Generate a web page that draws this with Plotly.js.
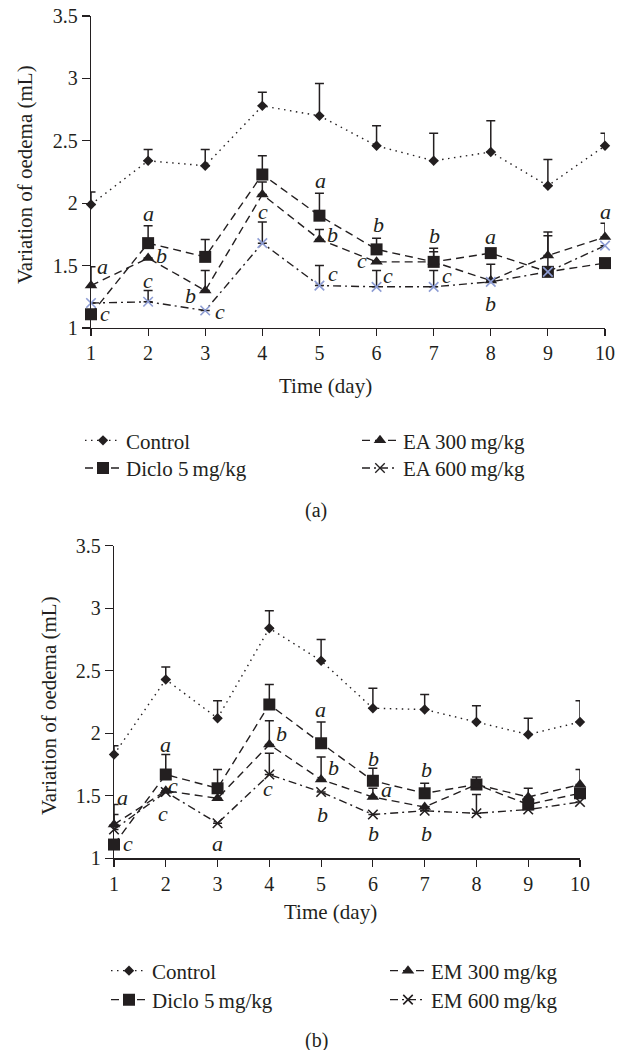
<!DOCTYPE html>
<html>
<head>
<meta charset="utf-8">
<script src="https://cdn.plot.ly/plotly-3.0.1.min.js"></script>
<style>
html,body{margin:0;padding:0;background:#fff;}
#chart{width:632px;height:1050px;}
</style>
</head>
<body>
<div id="chart"></div>
<script>
// ---------- data ----------
var days = [1, 2, 3, 4, 5, 6, 7, 8, 9, 10];

// Panel (a)
var aNames = ["Control", "Diclo 5\u2009mg/kg", "EA 300\u2009mg/kg", "EA 600\u2009mg/kg"];
var aControl = [1.99, 2.34, 2.30, 2.78, 2.70, 2.46, 2.34, 2.41, 2.14, 2.46];
var aControlErr = [0.10, 0.09, 0.13, 0.11, 0.26, 0.16, 0.22, 0.25, 0.21, 0.10];
var aDiclo = [1.11, 1.68, 1.57, 2.23, 1.90, 1.63, 1.53, 1.60, 1.45, 1.52];
var aDicloErr = [0, 0.14, 0.14, 0.15, 0.18, 0.09, 0.11, 0, 0.29, 0];
var aEA300 = [1.34, 1.56, 1.30, 2.07, 1.71, 1.53, 1.53, 1.38, 1.58, 1.73];
var aEA300Err = [0.15, 0, 0.16, 0.10, 0.08, 0, 0.08, 0.13, 0.19, 0.11];
var aEA600 = [1.20, 1.21, 1.14, 1.68, 1.34, 1.33, 1.33, 1.37, 1.45, 1.66];
var aEA600Err = [0, 0.09, 0, 0.17, 0.16, 0.13, 0.13, 0, 0, 0];

// Panel (b)
var bNames = ["Control", "Diclo 5\u2009mg/kg", "EM 300\u2009mg/kg", "EM 600\u2009mg/kg"];
var bControl = [1.83, 2.43, 2.12, 2.84, 2.58, 2.20, 2.19, 2.09, 1.99, 2.09];
var bControlErr = [0.07, 0.10, 0.14, 0.14, 0.17, 0.16, 0.12, 0.13, 0.13, 0.17];
var bDiclo = [1.11, 1.67, 1.56, 2.23, 1.92, 1.62, 1.52, 1.59, 1.43, 1.52];
var bDicloErr = [0, 0.16, 0.15, 0.16, 0.17, 0.10, 0.08, 0.06, 0, 0];
var bEM300 = [1.27, 1.54, 1.48, 1.91, 1.63, 1.49, 1.41, 1.59, 1.49, 1.59];
var bEM300Err = [0.08, 0, 0, 0.19, 0.18, 0.07, 0, 0, 0.07, 0.12];
var bEM600 = [1.23, 1.53, 1.28, 1.67, 1.53, 1.35, 1.38, 1.36, 1.39, 1.45];
var bEM600Err = [0.20, 0, 0, 0.17, 0, 0, 0, 0.15, 0, 0];

// significance letters: [day position, value position, letter]
var aLetterX = [1.21, 1.245, 2.0, 2.24, 2.0, 2.75, 3.26, 4.01, 5.01, 5.22, 5.24, 6.04, 5.75, 6.2, 7.02, 7.23, 8.0, 8.0, 10.0, 10.25];
var aLetterY = [1.49, 1.12, 1.92, 1.58, 1.38, 1.26, 1.13, 1.93, 2.18, 1.75, 1.44, 1.83, 1.54, 1.42, 1.74, 1.42, 1.73, 1.20, 1.93, 1.49];
var aLetters = ["a", "c", "a", "b", "c", "b", "c", "c", "a", "b", "c", "b", "c", "c", "b", "c", "a", "b", "a", "b"];

var bLetterX = [1.17, 1.27, 1.99, 2.14, 1.95, 2.99, 4.23, 3.98, 4.98, 5.24, 5.02, 6.01, 6.26, 6.01, 7.03, 7.03, 10.32];
var bLetterY = [1.49, 1.12, 1.91, 1.58, 1.36, 1.12, 2.00, 1.56, 2.19, 1.73, 1.35, 1.80, 1.55, 1.20, 1.71, 1.20, 1.49];
var bLetters = ["a", "c", "a", "c", "c", "a", "b", "c", "a", "b", "b", "b", "a", "b", "b", "b", "b"];

var yTicks = [1, 1.5, 2, 2.5, 3, 3.5];

// ---------- styles ----------
var INK = "#231f20";
var XBLUE = "#8e9dd4";
var FONT = "Liberation Serif, Times New Roman, serif";
var dashes = {dot: "1.5px,4.5px", dash: "8px,5px", dashdot: "8px,4px,2px,4px"};

function mk(name, xa, ya, y, err, symbol, size, mcolor, dash, legendId, open) {
  var marker = {symbol: symbol, size: size, color: mcolor, line: {width: 0}};
  if (open) marker.line = {width: 1.6, color: mcolor};
  return {
    type: "scatter", mode: "lines+markers", name: name,
    x: days, y: y, xaxis: xa, yaxis: ya,
    line: {color: INK, width: 1.4, dash: dash},
    marker: marker,
    error_y: {type: "data", symmetric: false, array: err,
              arrayminus: err.map(function () { return 0; }),
              color: INK, thickness: 1.5, width: 4.5},
    cliponaxis: false,
    legend: legendId
  };
}

// legend-only key for EA 600 (dark cross in the key, as in the original)
var aEA600Main = mk(aNames[3], "x", "y", aEA600, aEA600Err, "x-thin", 9.5, XBLUE, dashes.dashdot, "legend4", true);
aEA600Main.showlegend = false;
var aEA600Key = {type: "scatter", mode: "lines+markers", name: aNames[3], x: [null], y: [null],
  xaxis: "x", yaxis: "y", line: {color: INK, width: 1.4, dash: dashes.dashdot},
  marker: {symbol: "x-thin", size: 9.5, color: INK, line: {width: 1.4, color: INK}},
  legend: "legend4"};

var traces = [
  mk(aNames[0], "x", "y", aControl, aControlErr, "diamond", 8, INK, dashes.dot, "legend"),
  mk(aNames[1], "x", "y", aDiclo, aDicloErr, "square", 12, INK, dashes.dash, "legend2"),
  mk(aNames[2], "x", "y", aEA300, aEA300Err, "triangle-up", 11, INK, dashes.dash, "legend3"),
  aEA600Main, aEA600Key,
  mk(bNames[0], "x2", "y2", bControl, bControlErr, "diamond", 8, INK, dashes.dot, "legend5"),
  mk(bNames[1], "x2", "y2", bDiclo, bDicloErr, "square", 12, INK, dashes.dash, "legend6"),
  mk(bNames[2], "x2", "y2", bEM300, bEM300Err, "triangle-up", 11, INK, dashes.dash, "legend7"),
  mk(bNames[3], "x2", "y2", bEM600, bEM600Err, "x-thin", 9.5, INK, dashes.dashdot, "legend8", true)
];

function xax(domain, anchor) {
  return {domain: domain, anchor: anchor, range: [1, 10], tickvals: days,
          showline: true, linecolor: INK, linewidth: 1.3, ticks: "outside",
          ticklen: 7, tickwidth: 1.2, tickcolor: INK, showgrid: false, zeroline: false,
          tickfont: {family: FONT, size: 20, color: INK}, fixedrange: true};
}
function yax(domain, anchor) {
  return {domain: domain, anchor: anchor, range: [1, 3.5], tickvals: yTicks,
          showline: true, linecolor: INK, linewidth: 1.3, ticks: "outside",
          ticklen: 8, tickwidth: 1.2, tickcolor: INK, showgrid: false, zeroline: false,
          tickfont: {family: FONT, size: 20, color: INK}, fixedrange: true};
}

function P(px) { return px / 632; }
function Q(py) { return 1 - py / 1050; }

function leg(px, py) {
  return {x: P(px), y: Q(py), xanchor: "left", yanchor: "middle",
          bgcolor: "rgba(0,0,0,0)", borderwidth: 0,
          font: {family: FONT, size: 21, color: INK}, itemwidth: 36, tracegroupgap: 0};
}

var annotations = [];
function addLetters(xs, ys, ls, xr, yr) {
  for (var i = 0; i < ls.length; i++) {
    annotations.push({x: xs[i], y: ys[i], xref: xr, yref: yr, text: "<i>" + ls[i] + "</i>",
      showarrow: false, xanchor: "center", yanchor: "middle",
      font: {family: FONT, size: 22, color: INK}});
  }
}
addLetters(aLetterX, aLetterY, aLetters, "x", "y");
addLetters(bLetterX, bLetterY, bLetters, "x2", "y2");

function txt(t, px, py, size, angle) {
  annotations.push({text: t, x: P(px), y: Q(py), xref: "paper", yref: "paper",
    showarrow: false, xanchor: "center", yanchor: "middle", textangle: angle || 0,
    font: {family: FONT, size: size, color: INK}});
}
txt("Time (day)", 325, 386, 21);
txt("Variation of oedema (mL)", 25, 175, 21, -90);
txt("(a)", 316, 510, 20);
txt("Time (day)", 330, 912, 21);
txt("Variation of oedema (mL)", 49, 706, 21, -90);
txt("(b)", 316, 1040, 20);

var layout = {
  width: 632, height: 1050,
  margin: {l: 0, r: 0, t: 0, b: 0},
  paper_bgcolor: "#fff", plot_bgcolor: "rgba(0,0,0,0)",
  showlegend: true,
  xaxis: xax([P(91), P(605)], "y"),
  yaxis: yax([Q(328), Q(16)], "x"),
  xaxis2: xax([P(114), P(580)], "y2"),
  yaxis2: yax([Q(858.3), Q(545.7)], "x2"),
  legend: leg(80, 440.7),
  legend2: leg(80, 468.3),
  legend3: leg(357, 440.7),
  legend4: leg(357, 468.3),
  legend5: leg(106, 971),
  legend6: leg(106, 1000),
  legend7: leg(385, 971),
  legend8: leg(385, 1000),
  annotations: annotations
};

Plotly.newPlot("chart", traces, layout, {displayModeBar: false, staticPlot: true});
</script>
</body>
</html>
